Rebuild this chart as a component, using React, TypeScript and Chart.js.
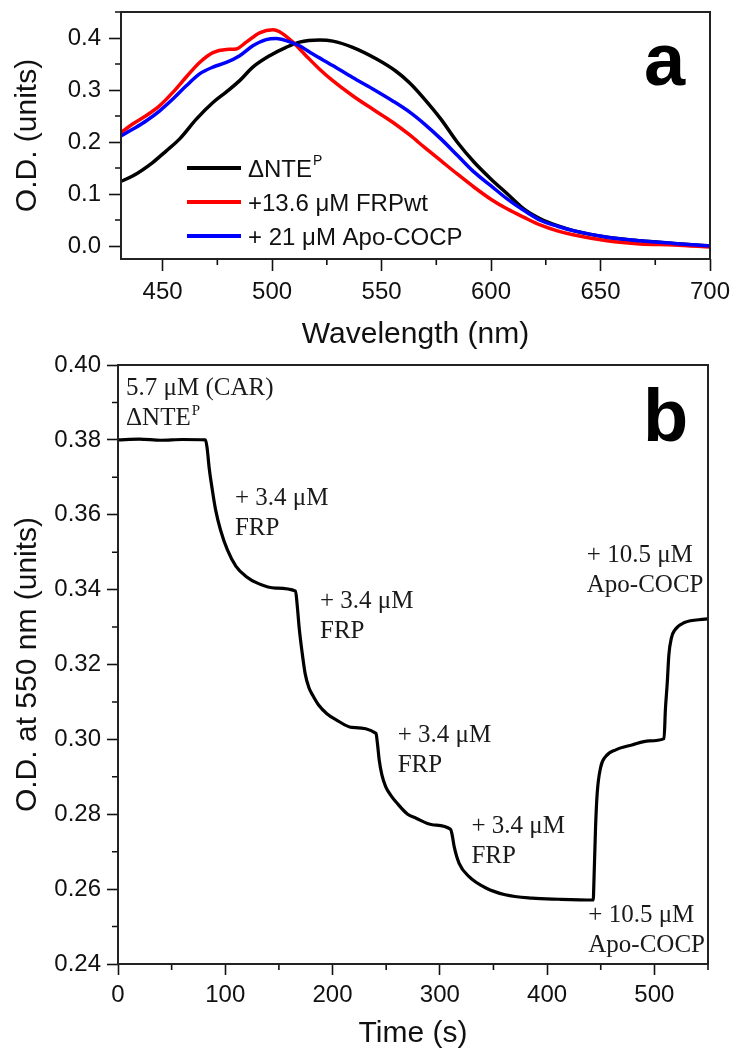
import { useEffect, useRef } from 'react';
import { Chart, registerables } from 'chart.js';

Chart.register(...registerables);

// ---------- Panel a: absorption spectra ----------
const nmBlack = [430, 436.5, 445.6, 451.7, 457.8, 465.4, 473, 479, 485.2, 491.2, 498.9, 506.4, 512.5, 521.7, 527.7, 536.8, 547.5, 556.6, 563, 569.5, 577.1, 584.7, 592.3, 599.9, 607.5, 615.1, 622.7, 630.3, 638, 653, 668, 683.5, 700];
const odBlack = [0.1225, 0.135, 0.161, 0.183, 0.206, 0.244, 0.276, 0.296, 0.318, 0.344, 0.366, 0.382, 0.392, 0.396, 0.394, 0.382, 0.36, 0.336, 0.313, 0.283, 0.244, 0.199, 0.161, 0.129, 0.1, 0.071, 0.052, 0.039, 0.029, 0.017, 0.01, 0.005, 0.0];

const nmRed = [430, 436.5, 442.6, 448.7, 454.8, 460.8, 466.9, 473, 479.1, 483.6, 488.2, 494.3, 500.4, 503.4, 509.5, 515.5, 521.7, 527.7, 536.8, 546, 555.1, 563, 569.5, 577.1, 584.7, 592.3, 599.9, 607.5, 615.1, 622.7, 630.3, 638, 653, 668, 683.5, 700];
const odRed = [0.215, 0.235, 0.251, 0.27, 0.296, 0.325, 0.353, 0.372, 0.378, 0.379, 0.392, 0.41, 0.416, 0.412, 0.392, 0.366, 0.34, 0.318, 0.289, 0.263, 0.238, 0.213, 0.19, 0.164, 0.138, 0.113, 0.09, 0.071, 0.055, 0.04, 0.029, 0.021, 0.01, 0.004, 0.002, -0.002];

const nmBlue = [430, 436.5, 442.6, 448.7, 454.8, 460.8, 466.9, 473, 479.1, 485.2, 491.2, 497.3, 501.9, 506.4, 512.5, 518.6, 527.7, 536.8, 546, 555.1, 563, 569.5, 577.1, 584.7, 592.3, 599.9, 607.5, 615.1, 622.7, 630.3, 638, 653, 668.3, 683.5, 697, 700];
const odBlue = [0.209, 0.225, 0.241, 0.26, 0.283, 0.308, 0.331, 0.344, 0.353, 0.366, 0.385, 0.397, 0.399, 0.395, 0.385, 0.369, 0.347, 0.324, 0.302, 0.279, 0.257, 0.235, 0.206, 0.174, 0.142, 0.116, 0.09, 0.068, 0.049, 0.038, 0.029, 0.017, 0.01, 0.005, 0.001, 0.0];

const specLabels = ['ΔNTE', '+13.6 μM FRPwt', '+ 21 μM Apo-COCP'];
const specSup = ['P', '', ''];
const specColors = ['#000000', '#ff0000', '#0000ff'];

const specTicksX = [450, 500, 550, 600, 650, 700];
const specMinorX = [475, 525, 575, 625, 675];
const specTicksY = [0, 0.1, 0.2, 0.3, 0.4];
const specMinorY = [0.05, 0.15, 0.25, 0.35, 0.45];

// ---------- Panel b: kinetics at 550 nm ----------
const timeS = [0, 20, 40, 60, 81.5, 83, 85, 88, 91, 95.5, 102, 110, 119, 131, 147, 165.5, 167, 169, 171.5, 174.5, 178, 181.5, 187, 195, 203, 218, 240.5, 242, 243.5, 246, 249.5, 254, 260, 270, 277.5, 293, 310, 311.5, 313.5, 318, 327, 343, 361, 386, 411, 443, 443.8, 445.2, 446.7, 449.9, 454.5, 464, 479, 495, 509, 510.3, 512, 513.5, 516, 519, 528, 547, 550];
const odKinetic = [0.38, 0.3802, 0.3799, 0.3801, 0.38, 0.378, 0.3725, 0.3665, 0.3613, 0.356, 0.3506, 0.3462, 0.3436, 0.3416, 0.3404, 0.3396, 0.336, 0.3295, 0.3235, 0.3175, 0.3138, 0.3118, 0.3092, 0.3068, 0.3053, 0.3032, 0.3016, 0.2985, 0.2945, 0.2905, 0.2874, 0.2852, 0.283, 0.28, 0.279, 0.2772, 0.276, 0.2745, 0.2712, 0.2669, 0.2634, 0.2603, 0.2585, 0.2576, 0.2573, 0.2571, 0.2634, 0.2767, 0.2856, 0.2925, 0.2954, 0.2972, 0.2985, 0.2996, 0.3002, 0.308, 0.315, 0.3225, 0.3272, 0.3292, 0.3312, 0.3321, 0.3322];

const kinTicksX = [0, 100, 200, 300, 400, 500];
const kinMinorX = [50, 150, 250, 350, 450, 550];
const kinTicksY = [0.24, 0.26, 0.28, 0.3, 0.32, 0.34, 0.36, 0.38, 0.4];
const kinMinorY = [0.25, 0.27, 0.29, 0.31, 0.33, 0.35, 0.37, 0.39];

const noteLine1 = ['5.7 μM (CAR)', '+ 3.4 μM', '+ 3.4 μM', '+ 3.4 μM', '+ 3.4 μM', '+ 10.5 μM', '+ 10.5 μM'];
const noteLine2 = ['ΔNTE', 'FRP', 'FRP', 'FRP', 'FRP', 'Apo-COCP', 'Apo-COCP'];
const noteSup = ['P', '', '', '', '', '', ''];
const noteTime = [7.5, 109, 188.3, 260.7, 329.5, 438.4, 437];
const noteOd = [0.392, 0.3626, 0.335, 0.2994, 0.2749, 0.2513, 0.3475];

const SANS = "'Liberation Sans', Arial, sans-serif";
const SERIF = "'Liberation Serif', 'Times New Roman', serif";
const INK = '#111111';

function makeAxis(opts: any) {
  const { min, max, ticks, fmt, horizontal, size, title, titlePad, labelPad, tickLen } = opts;
  return {
    type: 'linear',
    min,
    max,
    afterBuildTicks: (s: any) => {
      s.ticks = ticks.map((v: number) => ({ value: v }));
    },
    afterFit: (s: any) => {
      if (horizontal) s.height = size;
      else s.width = size;
      s.paddingLeft = 0;
      s.paddingRight = 0;
      s.paddingTop = 0;
      s.paddingBottom = 0;
    },
    grid: {
      drawOnChartArea: false,
      drawTicks: true,
      tickLength: tickLen,
      tickColor: INK,
      tickWidth: 1.6,
      color: INK,
    },
    border: { display: false },
    ticks: {
      autoSkip: false,
      maxRotation: 0,
      minRotation: 0,
      padding: labelPad,
      color: INK,
      font: { family: SANS, size: 24 },
      callback: (v: any) => fmt(Number(v)),
    },
    title: {
      display: true,
      text: title,
      color: INK,
      font: { family: SANS, size: 30 },
      padding: titlePad,
    },
  };
}

function framePlugin(minorX: number[], minorY: number[]) {
  return {
    id: 'frameMinor',
    afterDraw(chart: any) {
      const { ctx, chartArea } = chart;
      const sx = chart.scales.x;
      const sy = chart.scales.y;
      ctx.save();
      ctx.strokeStyle = INK;
      ctx.lineWidth = 1.6;
      ctx.beginPath();
      minorX.forEach((v) => {
        const px = sx.getPixelForValue(v);
        ctx.moveTo(px, chartArea.bottom);
        ctx.lineTo(px, chartArea.bottom + 6);
      });
      minorY.forEach((v) => {
        const py = sy.getPixelForValue(v);
        ctx.moveTo(chartArea.left, py);
        ctx.lineTo(chartArea.left - 6, py);
      });
      ctx.stroke();
      ctx.strokeStyle = '#222222';
      ctx.lineWidth = 2;
      ctx.strokeRect(chartArea.left, chartArea.top, chartArea.right - chartArea.left, chartArea.bottom - chartArea.top);
      ctx.restore();
    },
  };
}

const specDecor = {
  id: 'specDecor',
  afterDraw(chart: any) {
    const { ctx, chartArea } = chart;
    ctx.save();
    specLabels.forEach((label, i) => {
      const y = chartArea.top + 156 + i * 34;
      ctx.strokeStyle = specColors[i];
      ctx.lineWidth = 4;
      ctx.beginPath();
      ctx.moveTo(chartArea.left + 66, y);
      ctx.lineTo(chartArea.left + 120, y);
      ctx.stroke();
      ctx.fillStyle = INK;
      ctx.font = `24px ${SANS}`;
      ctx.textBaseline = 'middle';
      ctx.textAlign = 'left';
      const tx = chartArea.left + 127;
      ctx.fillText(label, tx, y + 2);
      if (specSup[i]) {
        const w = ctx.measureText(label).width;
        ctx.font = `14px ${SANS}`;
        ctx.fillText(specSup[i], tx + w + 1, y - 7);
      }
    });
    ctx.fillStyle = '#000';
    ctx.font = `bold 74px ${SANS}`;
    ctx.textBaseline = 'alphabetic';
    ctx.textAlign = 'left';
    ctx.fillText('a', chartArea.right - 66, chartArea.top + 73);
    ctx.restore();
  },
};

const kinDecor = {
  id: 'kinDecor',
  afterDraw(chart: any) {
    const { ctx, chartArea } = chart;
    const sx = chart.scales.x;
    const sy = chart.scales.y;
    ctx.save();
    ctx.fillStyle = '#1a1a1a';
    ctx.textBaseline = 'alphabetic';
    ctx.textAlign = 'left';
    noteLine1.forEach((l1, i) => {
      const x = sx.getPixelForValue(noteTime[i]);
      const y = sy.getPixelForValue(noteOd[i]);
      ctx.font = `25px ${SERIF}`;
      ctx.fillText(l1, x, y);
      ctx.fillText(noteLine2[i], x, y + 30);
      if (noteSup[i]) {
        const w = ctx.measureText(noteLine2[i]).width;
        ctx.font = `15px ${SERIF}`;
        ctx.fillText(noteSup[i], x + w + 1, y + 30 - 10);
      }
    });
    ctx.fillStyle = '#000';
    ctx.font = `bold 74px ${SANS}`;
    ctx.fillText('b', chartArea.right - 65, chartArea.top + 76);
    ctx.restore();
  },
};

export default function App() {
  const refA = useRef<HTMLCanvasElement | null>(null);
  const refB = useRef<HTMLCanvasElement | null>(null);

  useEffect(() => {
    const toXY = (xs: number[], ys: number[]) => xs.map((x, i) => ({ x, y: ys[i] }));
    const lineStyle = { borderWidth: 3.5, pointRadius: 0, cubicInterpolationMode: 'monotone' };
    const chartA = new Chart(refA.current as HTMLCanvasElement, {
      type: 'line',
      data: {
        datasets: [
          { label: specLabels[0], data: toXY(nmBlack, odBlack), borderColor: specColors[0], order: 3, ...lineStyle },
          { label: specLabels[1], data: toXY(nmRed, odRed), borderColor: specColors[1], order: 2, ...lineStyle },
          { label: specLabels[2], data: toXY(nmBlue, odBlue), borderColor: specColors[2], order: 1, ...lineStyle },
        ],
      },
      options: {
        responsive: false,
        animation: false,
        events: [],
        layout: { padding: { top: 12, right: 22, left: 0, bottom: 0 } },
        plugins: { legend: { display: false }, tooltip: { enabled: false } },
        scales: {
          x: makeAxis({ min: 431, max: 700, ticks: specTicksX, fmt: (v: number) => String(Math.round(v)), horizontal: true, size: 97, title: 'Wavelength (nm)', titlePad: { top: 0, bottom: 3 }, labelPad: 7, tickLen: 12 }),
          y: makeAxis({ min: -0.025, max: 0.45, ticks: specTicksY, fmt: (v: number) => v.toFixed(1), horizontal: false, size: 121, title: 'O.D. (units)', titlePad: { top: 10, bottom: 0 }, labelPad: 8, tickLen: 12 }),
        },
      } as any,
      plugins: [framePlugin(specMinorX, specMinorY), specDecor],
    });

    const chartB = new Chart(refB.current as HTMLCanvasElement, {
      type: 'line',
      data: {
        datasets: [
          { label: 'O.D. at 550 nm', data: toXY(timeS, odKinetic), borderColor: '#000', borderWidth: 3.2, pointRadius: 0, cubicInterpolationMode: 'monotone' },
        ],
      },
      options: {
        responsive: false,
        animation: false,
        events: [],
        layout: { padding: { top: 25, right: 24, left: 0, bottom: 0 } },
        plugins: { legend: { display: false }, tooltip: { enabled: false } },
        scales: {
          x: makeAxis({ min: 0, max: 550, ticks: kinTicksX, fmt: (v: number) => String(Math.round(v)), horizontal: true, size: 89, title: 'Time (s)', titlePad: { top: 0, bottom: 1 }, labelPad: 6, tickLen: 11 }),
          y: makeAxis({ min: 0.24, max: 0.4, ticks: kinTicksY, fmt: (v: number) => v.toFixed(2), horizontal: false, size: 118, title: 'O.D. at 550 nm (units)', titlePad: { top: 10, bottom: 0 }, labelPad: 6, tickLen: 11 }),
        },
      } as any,
      plugins: [framePlugin(kinMinorX, kinMinorY), kinDecor],
    });

    return () => {
      chartA.destroy();
      chartB.destroy();
    };
  }, []);

  return (
    <div style={{ position: 'absolute', left: 0, top: 0, width: 732, height: 1053, background: '#ffffff', overflow: 'hidden' }}>
      <canvas ref={refA} width={732} height={356} style={{ position: 'absolute', left: 0, top: 0, width: '732px', height: '356px' }} />
      <canvas ref={refB} width={732} height={713} style={{ position: 'absolute', left: 0, top: 340, width: '732px', height: '713px' }} />
    </div>
  );
}
